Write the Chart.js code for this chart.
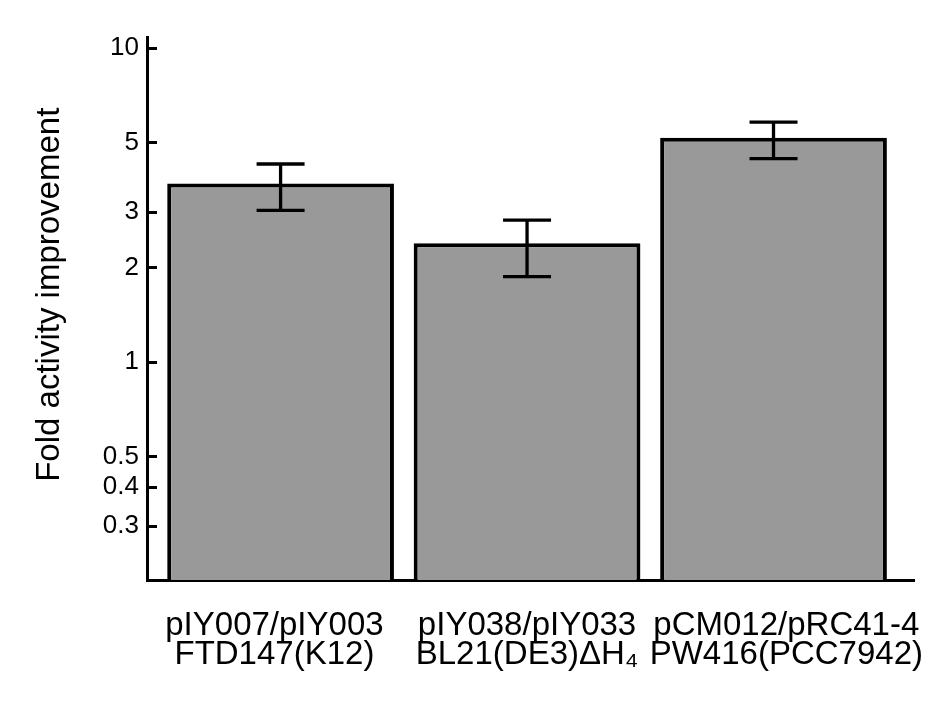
<!DOCTYPE html>
<html>
<head>
<meta charset="utf-8">
<script src="https://cdn.jsdelivr.net/npm/chart.js@4.4.1/dist/chart.umd.min.js"></script>
<style>
  html, body { margin: 0; padding: 0; background: #fff; }
  #wrap { width: 945px; height: 709px; }
</style>
</head>
<body>
<div id="wrap"><canvas id="foldChart" width="945" height="709"></canvas></div>
<script>
// categories (two label lines each)
const strains = [
    ['pIY007/pIY003', 'FTD147(K12)'],
    ['pIY038/pIY033', 'BL21(DE3)\u0394H\u2084'],
    ['pCM012/pRC41-4', 'PW416(PCC7942)']
];
const foldValues = [3.70, 2.39, 5.18];
const errLow = [3.04, 1.87, 4.44];
const errHigh = [4.27, 2.83, 5.81];
const yTicks = [0.3, 0.4, 0.5, 1, 2, 3, 5, 10];

// labels in the original sit a little off the bar centres (in category units)
const labelNudge = [-0.025, 0, 0.052];

const FONT = '"Liberation Sans", Arial, Helvetica, sans-serif';

// error bars on top of the bars
const errorBarPlugin = {
    id: 'errorBars',
    afterDatasetsDraw(chart) {
        const ctx = chart.ctx;
        const y = chart.scales.y;
        const meta = chart.getDatasetMeta(0);
        ctx.save();
        ctx.strokeStyle = '#000';
        ctx.lineWidth = 3.3;
        meta.data.forEach((bar, i) => {
            const yLo = y.getPixelForValue(errLow[i]);
            const yHi = y.getPixelForValue(errHigh[i]);
            ctx.beginPath();
            ctx.moveTo(bar.x, yLo);
            ctx.lineTo(bar.x, yHi);
            ctx.moveTo(bar.x - 24, yHi);
            ctx.lineTo(bar.x + 24, yHi);
            ctx.moveTo(bar.x - 24, yLo);
            ctx.lineTo(bar.x + 24, yLo);
            ctx.stroke();
        });
        ctx.restore();
    }
};

// tick marks pointing into the plot
const innerTicksPlugin = {
    id: 'innerTicks',
    afterDraw(chart) {
        const ctx = chart.ctx;
        const y = chart.scales.y;
        const left = chart.chartArea.left;
        ctx.save();
        ctx.strokeStyle = '#000';
        ctx.lineWidth = 3;
        yTicks.forEach(v => {
            const py = Math.round(y.getPixelForValue(v)) + 0.5;
            ctx.beginPath();
            ctx.moveTo(left, py);
            ctx.lineTo(left + 10, py);
            ctx.stroke();
        });
        ctx.restore();
    }
};

const ctx = document.getElementById('foldChart').getContext('2d');

new Chart(ctx, {
    type: 'bar',
    data: {
        datasets: [{
            data: foldValues.map((v, i) => ({ x: i, y: v })),
            backgroundColor: '#999999',
            borderColor: '#000000',
            borderWidth: 4,
            barPercentage: 0.92,
            categoryPercentage: 1
        }]
    },
    options: {
        responsive: false,
        animation: false,
        layout: { padding: { top: 37, right: 31, bottom: 0, left: 0 } },
        plugins: {
            legend: { display: false },
            tooltip: { enabled: false }
        },
        scales: {
            x: {
                type: 'linear',
                offset: false,
                min: -0.542,
                max: 2.57,
                afterBuildTicks: scale => {
                    scale.ticks = strains.map((s, i) => ({ value: i + labelNudge[i] }));
                },
                afterFit: scale => {
                    scale.height = 129;
                    scale.paddingLeft = 0;
                    scale.paddingRight = 0;
                },
                grid: { display: false, drawTicks: false },
                border: { display: true, color: '#000', width: 3 },
                ticks: {
                    color: '#000',
                    padding: 31,
                    maxRotation: 0,
                    autoSkip: false,
                    font: { family: FONT, size: 33, lineHeight: 0.88 },
                    callback: (value, index) => strains[index]
                }
            },
            y: {
                type: 'logarithmic',
                min: 0.202,
                max: 10.84,
                afterBuildTicks: scale => {
                    scale.ticks = yTicks.map(v => ({ value: v }));
                },
                afterFit: scale => { scale.width = 147; },
                grid: { display: false, drawTicks: false },
                border: { display: true, color: '#000', width: 3 },
                ticks: {
                    color: '#000',
                    padding: 8,
                    autoSkip: false,
                    font: { family: FONT, size: 26 },
                    callback: value => String(value)
                },
                title: {
                    display: true,
                    text: '   Fold activity improvement',
                    color: '#000',
                    padding: { top: 30, bottom: 0 },
                    font: { family: FONT, size: 33 }
                }
            }
        }
    },
    plugins: [errorBarPlugin, innerTicksPlugin]
});
</script>
</body>
</html>
